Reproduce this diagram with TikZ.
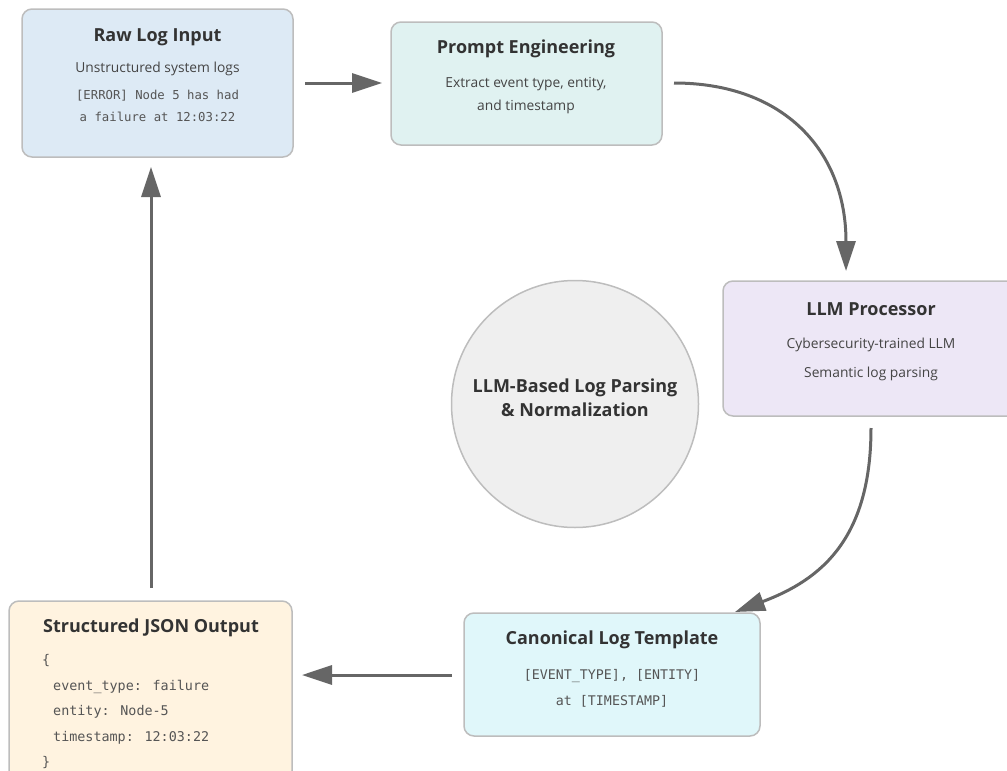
\documentclass[tikz,border=0pt]{standalone}
\usepackage{fontspec}
\setmainfont{Open Sans}
\newfontfamily\monof{DejaVu Sans Mono}
\usetikzlibrary{arrows.meta}
\definecolor{rawfill}{HTML}{DDEAF5}
\definecolor{promptfill}{HTML}{E0F2F1}
\definecolor{llmfill}{HTML}{EDE7F6}
\definecolor{canonfill}{HTML}{E0F7FA}
\definecolor{jsonfill}{HTML}{FFF3E0}
\definecolor{circfill}{HTML}{EFEFEF}
\definecolor{boxline}{HTML}{BDBDBD}
\definecolor{arrowc}{HTML}{666666}
\definecolor{titlec}{HTML}{333333}
\definecolor{bodyc}{HTML}{444444}
\definecolor{monoc}{HTML}{555555}
\tikzset{
  card/.style={draw=boxline, line width=1.5pt, rounded corners=10pt, inner sep=0pt},
  ttl/.style={anchor=base, text=titlec, font=\fontsize{18}{21}\selectfont\bfseries, inner sep=0pt},
  body/.style={anchor=base, text=bodyc, font=\fontsize{13.8}{16}\selectfont, inner sep=0pt},
  mono/.style={anchor=base, text=monoc, font=\monof\fontsize{12.3}{15}\selectfont, inner sep=0pt},
  monob/.style={anchor=base west, text=monoc, font=\monof\fontsize{13.4}{16}\selectfont, inner sep=0pt},
  flow/.style={draw=arrowc, line width=3pt, -{Triangle[length=30pt,width=19pt]}},
}
\begin{document}
\begin{tikzpicture}[x=1pt,y=-1pt]
\useasboundingbox (0,0) rectangle (1007,771);
% boxes
\node[card, fill=rawfill, minimum width=271pt, minimum height=148pt] (raw) at (157.5,83) {};
\node[card, fill=promptfill, minimum width=271pt, minimum height=123pt] (prompt) at (526.5,83.5) {};
\node[card, fill=llmfill, minimum width=296pt, minimum height=135pt] (llm) at (871,348.5) {};
\node[card, fill=canonfill, minimum width=296pt, minimum height=123pt] (canon) at (612,674.5) {};
\node[card, fill=jsonfill, minimum width=283pt, minimum height=180pt] (json) at (150.5,691) {};
\node[circle, draw=boxline, line width=1.5pt, fill=circfill, minimum size=247pt, inner sep=0pt] (hub) at (575,404) {};
% raw text
\node[ttl] (rawt) at (157.5,41) {Raw Log Input};
\node[body] (rawb) at (157.5,72) {Unstructured system logs};
\node[mono] (rawm1) at (157.5,99) {[ERROR] Node 5 has had};
\node[mono] (rawm2) at (157.5,121) {a failure at 12:03:22};
% prompt text
\node[ttl] (prt) at (526,53) {Prompt Engineering};
\node[body] (prb1) at (526,87) {Extract event type, entity,};
\node[body] (prb2) at (526,110) {and timestamp};
% llm text
\node[ttl] (llmt) at (871,315) {LLM Processor};
\node[body] (llmb1) at (871,348) {Cybersecurity-trained LLM};
\node[body] (llmb2) at (871,377) {Semantic log parsing};
% hub text
\node[ttl] (hubt1) at (575,392) {LLM-Based Log Parsing};
\node[ttl] (hubt2) at (575,416) {\& Normalization};
% canonical text
\node[mono, font=\monof\fontsize{13.3}{16}\selectfont] (canm1) at (612,679) {[EVENT\_TYPE], [ENTITY]};
\node[mono, font=\monof\fontsize{13.3}{16}\selectfont] (canm2) at (612,705) {at [TIMESTAMP]};
\node[ttl] (cant) at (612,644) {Canonical Log Template};
% json text
\node[ttl] (jst) at (151,632) {Structured JSON Output};
\node[monob] (js0) at (42,664) {\{};
\node[monob] (js1) at (53,690) {event\_type: failure};
\node[monob] (js2) at (53,715) {entity: Node-5};
\node[monob] (js3) at (53,741) {timestamp: 12:03:22};
\node[monob] (js4) at (42,766) {\}};
% connector anchors
\coordinate (a1s) at (305,83);
\coordinate (a1e) at (382,83);
\coordinate (a2s) at (674,83);
\coordinate (a2e) at (846,271);
\coordinate (a3s) at (871,428);
\coordinate (a3e) at (735,612);
\coordinate (a4s) at (452,675);
\coordinate (a4e) at (302,675);
\coordinate (a5s) at (151,588);
\coordinate (a5e) at (151,167);
\draw[flow] (a1s) -- (a1e);
\draw[flow] (a2s) .. controls (784,83) and (846,151) .. (a2e);
\draw[flow] (a3s) .. controls (871,540) and (820,580) .. (a3e);
\draw[flow] (a4s) -- (a4e);
\draw[flow] (a5s) -- (a5e);
\end{tikzpicture}
\end{document}
